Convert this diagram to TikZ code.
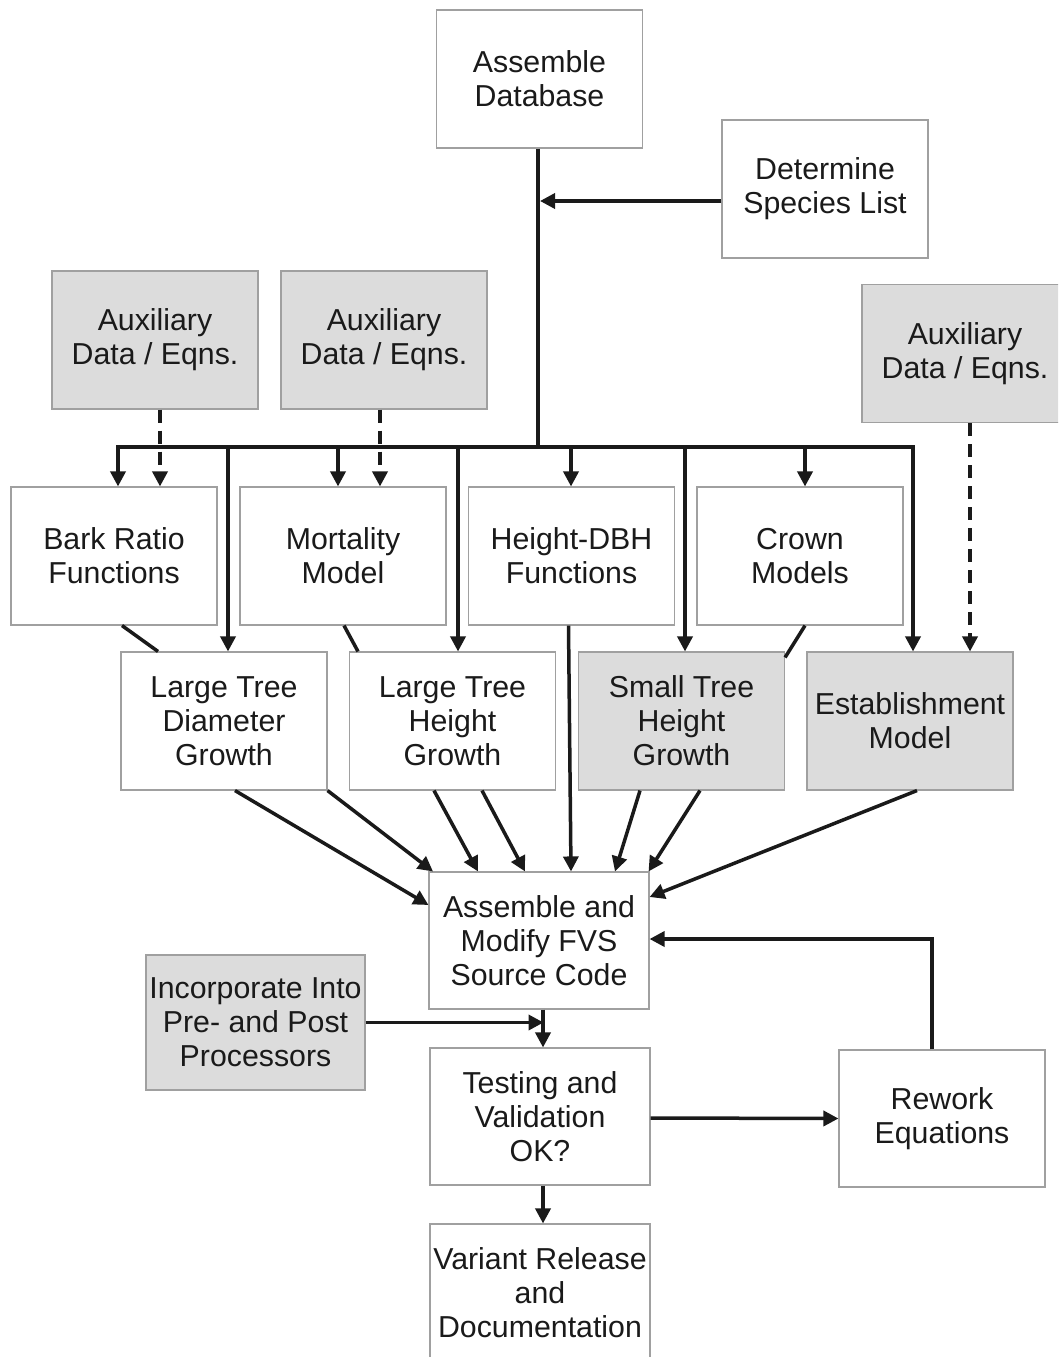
\documentclass[tikz,border=0pt]{standalone}
\usepackage{fontspec}
\setmainfont{Liberation Sans}
\usetikzlibrary{arrows.meta}
\definecolor{boxgray}{HTML}{DCDCDC}
\definecolor{edgegray}{HTML}{A0A0A0}
\definecolor{ink}{HTML}{1A1A1A}
\tikzset{
  box/.style={draw=edgegray, line width=1.1pt, fill=white, text=ink, align=center,
    minimum width=206pt, minimum height=138pt, inner sep=0pt,
    font=\fontsize{30.3}{34}\selectfont},
  graybox/.style={box, fill=boxgray},
  conn/.style={draw=ink, line width=3.5pt},
  arr/.style={conn, -{Triangle[length=15pt,width=15pt]}},
  darr/.style={arr, dash pattern=on 13pt off 8pt},
}
\begin{document}
\begin{tikzpicture}[x=1pt,y=-1pt]
\useasboundingbox (0,0) rectangle (1058,1357);
\clip (0,0) rectangle (1058,1357);
\fill[white] (0,0) rectangle (1058,1357);

% nodes
\node[box] (adb) at (539.5,79) {Assemble\\Database};
\node[box] (dsl) at (825,189) {Determine\\Species List};
\node[graybox] (aux1) at (155,340) {Auxiliary\\Data / Eqns.};
\node[graybox] (aux2) at (384,340) {Auxiliary\\Data / Eqns.};
\node[graybox] (aux3) at (965,353.5) {Auxiliary\\Data / Eqns.};
\node[box] (bark) at (114,556) {Bark Ratio\\Functions};
\node[box] (mort) at (343,556) {Mortality\\Model};
\node[box] (hdbh) at (571.5,556) {Height-DBH\\Functions};
\node[box] (crown) at (800,556) {Crown\\Models};
\node[box] (ltd) at (224,721) {Large Tree\\Diameter\\Growth};
\node[box] (lth) at (452.5,721) {Large Tree\\Height\\Growth};
\node[graybox] (sth) at (681.5,721) {Small Tree\\Height\\Growth};
\node[graybox] (est) at (910,721) {Establishment\\Model};
\node[box, minimum width=220pt, minimum height=137pt] (am) at (539,940.5) {Assemble and\\Modify FVS\\Source Code};
\node[graybox, minimum width=219pt, minimum height=135pt] (inc) at (255.5,1022.5) {Incorporate Into\\Pre- and Post\\Processors};
\node[box, minimum width=220pt, minimum height=137pt] (tv) at (540,1116.5) {Testing and\\Validation\\OK?};
\node[box, minimum height=137pt] (rw) at (942,1118.5) {Rework\\Equations};
\node[box, minimum width=220pt] (vr) at (540,1293) {Variant Release\\and\\Documentation};

% bus
\coordinate (bj) at (538,447);
\coordinate (sp) at (540,201);
\coordinate (b1) at (118,447);
\coordinate (b2) at (228,447);
\coordinate (b3) at (338,447);
\coordinate (b4) at (458,447);
\coordinate (b5) at (571,447);
\coordinate (b6) at (685,447);
\coordinate (b7) at (805,447);
\coordinate (b8) at (913,447);

\draw[conn] ([xshift=-1.5pt]adb.south) -- (bj);
\draw[arr] (dsl.west |- sp) -- (sp);
\draw[conn, line cap=rect] (b1) -- (b8);
\draw[arr] (b1) -- (b1 |- bark.north);
\draw[arr] (b2) -- (b2 |- ltd.north);
\draw[arr] (b3) -- (b3 |- mort.north);
\draw[arr] (b4) -- (b4 |- lth.north);
\draw[arr] (b5) -- (b5 |- hdbh.north);
\draw[arr] (b6) -- (b6 |- sth.north);
\draw[arr] (b7) -- (b7 |- crown.north);
\draw[arr] (b8) -- (b8 |- est.north);

% dashed auxiliary inputs
\draw[darr] ([xshift=5pt]aux1.south) -- ([xshift=46pt]bark.north);
\draw[darr] ([xshift=-4pt]aux2.south) -- ([xshift=37pt]mort.north);
\draw[darr] ([xshift=5pt]aux3.south) -- ([xshift=60pt]est.north);

% plain links
\draw[conn] ([xshift=8pt]bark.south) -- ([xshift=-66pt]ltd.north);
\draw[conn] ([xshift=1pt]mort.south) -- ([xshift=-94.5pt]lth.north);
\draw[conn] ([xshift=5pt]crown.south) -- ([yshift=-6pt]sth.north east);

% arrows into assemble and modify
\draw[arr] ([xshift=11pt]ltd.south) -- ([yshift=35.5pt]am.west);
\draw[arr] (ltd.south east) -- ([xshift=-106pt]am.north);
\draw[arr] ([xshift=-18.5pt]lth.south) -- ([xshift=-61pt]am.north);
\draw[arr] ([xshift=29.5pt]lth.south) -- ([xshift=-14pt]am.north);
\draw[arr] ([xshift=-3pt]hdbh.south) -- ([xshift=32pt]am.north);
\draw[arr] ([xshift=-41.5pt]sth.south) -- ([xshift=76pt]am.north);
\draw[arr] ([xshift=18.5pt]sth.south) -- ([xshift=-1pt]am.north east);
\draw[arr] ([xshift=7pt]est.south) -- ([yshift=43.5pt]am.east);

% lower flow
\draw[arr] ([xshift=-10pt]rw.north) |- ([yshift=1.5pt]am.east);
\draw[arr] (inc.east) -- ++(178,0);
\draw[arr] ([xshift=4pt]am.south) -- ([xshift=3pt]tv.north);
\draw[arr] ([yshift=-1.5pt]tv.east) -- (rw.west);
\draw[arr] ([xshift=3pt]tv.south) -- ([xshift=3pt]vr.north);
\end{tikzpicture}
\end{document}
